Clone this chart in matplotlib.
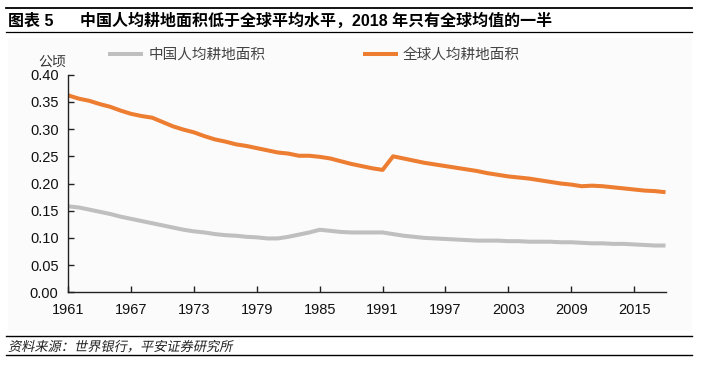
import matplotlib
matplotlib.use("Agg")
import matplotlib.pyplot as plt
from matplotlib.lines import Line2D
from matplotlib.patches import Rectangle, PathPatch
from matplotlib.textpath import TextPath
from matplotlib.font_manager import FontProperties
from matplotlib.transforms import Affine2D, IdentityTransform

plt.rcParams['font.family'] = ['Liberation Sans', 'Noto Sans CJK SC']

years = list(range(1961, 2019))
world = [0.362, 0.356, 0.352, 0.346, 0.341, 0.334, 0.328, 0.324, 0.321, 0.313,
         0.305, 0.299, 0.294, 0.287, 0.281, 0.277, 0.272, 0.269, 0.265, 0.261,
         0.257, 0.255, 0.251, 0.251, 0.249, 0.246, 0.241, 0.236, 0.232, 0.228,
         0.225, 0.250, 0.246, 0.242, 0.238, 0.235, 0.232, 0.229, 0.226, 0.223,
         0.219, 0.216, 0.213, 0.211, 0.209, 0.206, 0.203, 0.200, 0.198, 0.195,
         0.196, 0.195, 0.193, 0.191, 0.189, 0.187, 0.186, 0.184]
china = [0.158, 0.156, 0.152, 0.148, 0.144, 0.139, 0.135, 0.131, 0.127, 0.123,
         0.119, 0.115, 0.112, 0.110, 0.107, 0.105, 0.104, 0.102, 0.101, 0.099,
         0.099, 0.102, 0.106, 0.110, 0.115, 0.113, 0.111, 0.110, 0.110, 0.110,
         0.110, 0.107, 0.104, 0.102, 0.100, 0.099, 0.098, 0.097, 0.096, 0.095,
         0.095, 0.095, 0.094, 0.094, 0.093, 0.093, 0.093, 0.092, 0.092, 0.091,
         0.090, 0.090, 0.089, 0.089, 0.088, 0.087, 0.086, 0.086]
xticks = [1961, 1967, 1973, 1979, 1985, 1991, 1997, 2003, 2009, 2015]
yticks = [0.0, 0.05, 0.10, 0.15, 0.20, 0.25, 0.30, 0.35, 0.40]

W, H = 701, 367
fig = plt.figure(figsize=(W / 100, H / 100), dpi=100)

# light panel behind the chart
fig.add_artist(Rectangle((8 / W, 1 - 331 / H), 684 / W, 293 / H,
                         transform=fig.transFigure, color='#fbfbfb', lw=0, zorder=-10))

ax = fig.add_axes([68.3 / W, 74.7 / H, (665.5 - 68.3) / W, 217.6 / H])
ax.patch.set_alpha(0)
l1, = ax.plot(years, china, color='#bfbfbf', lw=2.9, solid_capstyle='butt', label='中国人均耕地面积')
l2, = ax.plot(years, world, color='#ed7d31', lw=2.9, solid_capstyle='butt', label='全球人均耕地面积')

ax.set_xlim(1961, 2018)
ax.set_ylim(0, 0.40)
ax.set_xticks(xticks)
ax.set_yticks(yticks)
ax.set_yticklabels([f'{v:.2f}' for v in yticks])
for s in ['top', 'right']:
    ax.spines[s].set_visible(False)
for s in ['left', 'bottom']:
    ax.spines[s].set_color('#222222')
    ax.spines[s].set_linewidth(1.0)
ax.tick_params(axis='both', direction='in', length=4, width=1.0, color='#222222',
               labelsize=10.5, labelcolor='#111111')
ax.tick_params(axis='x', pad=7.5)
ax.tick_params(axis='y', pad=7)

fig.text(52 / W, 1 - 62 / H, '公顷', fontsize=10, color='#333333', ha='center', va='center')

leg = fig.legend(handles=[l1, l2], loc='center left', bbox_to_anchor=(108 / W, 1 - 55 / H),
                 ncol=2, frameon=False, fontsize=10.5, handlelength=2.4, handletextpad=0.35,
                 columnspacing=6.7, borderpad=0, borderaxespad=0)
for t in leg.get_texts():
    t.set_color('#444444')

# title and rules
fig.text(8 / W, 1 - 21 / H, '图表 5', fontsize=11.5, fontweight='bold', va='center')
fig.text(80 / W, 1 - 21 / H, '中国人均耕地面积低于全球平均水平，2018 年只有全球均值的一半',
         fontsize=11.5, fontweight='bold', va='center')
for y, lw in [(8, 1.3), (32.3, 0.9), (336, 1.0), (355, 1.0)]:
    fig.add_artist(Line2D([6 / W, 692 / W], [1 - y / H, 1 - y / H], transform=fig.transFigure,
                          color='black', lw=lw))

# slanted source note
src = TextPath((0, 0), '资料来源：世界银行，平安证券研究所', size=13.2,
               prop=FontProperties(family='Noto Sans CJK SC'))
tr = Affine2D().skew_deg(12, 0).translate(8, H - 351)
fig.add_artist(PathPatch(tr.transform_path(src), transform=IdentityTransform(),
                         color='#222222', lw=0))

fig.savefig('out.png', dpi=100)
